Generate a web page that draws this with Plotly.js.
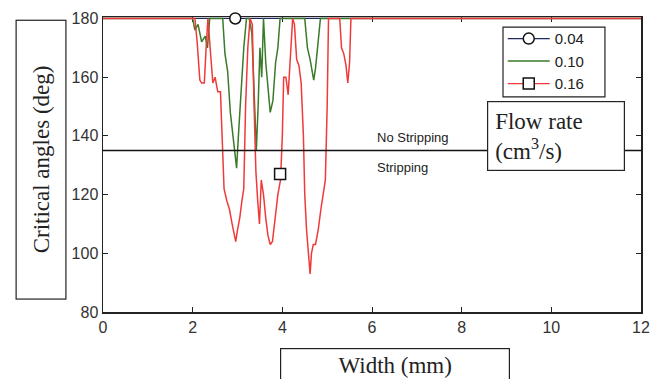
<!DOCTYPE html>
<html><head><meta charset="utf-8">
<script src="https://cdn.plot.ly/plotly-3.0.1.min.js"></script>
<style>html,body{margin:0;padding:0;background:#fff}#plot{width:659px;height:379px}</style>
</head><body><div id="plot"></div>
<script>
// Flow rate 0.04 cm3/s: no stripping anywhere
const x04 = [0, 12];
const y04 = [180, 180];
const markX04 = [2.95];
const markY04 = [180];
// Flow rate 0.10 cm3/s
const x10 = [0,2.0,2.05,2.12,2.2,2.28,2.33,2.38,2.45,2.6,2.67,2.72,2.78,2.84,2.9,2.95,2.98,3.02,3.08,3.14,3.2,3.26,3.32,3.38,3.42,3.46,3.5,3.54,3.58,3.63,3.68,3.73,3.79,3.85,3.9,3.95,4.5,4.56,4.62,4.67,4.7,4.74,4.79,4.85,12];
const y10 = [180,180,176,178,172,174,170,180,180,180,180,168,162,148,140,133,129,140,155,170,180,180,175,150,135,150,170,160,180,165,155,148,152,165,170,180,180,170,166,162,159,163,170,180,180];
// Flow rate 0.16 cm3/s
const x16 = [0,2.05,2.1,2.16,2.2,2.26,2.3,2.34,2.4,2.45,2.5,2.56,2.62,2.66,2.7,2.76,2.82,2.88,2.93,2.96,3.0,3.05,3.1,3.14,3.18,3.23,3.28,3.33,3.37,3.41,3.45,3.49,3.53,3.58,3.63,3.68,3.73,3.78,3.84,3.9,3.96,4.0,4.03,4.08,4.13,4.18,4.23,4.27,4.32,4.37,4.42,4.47,4.5,4.54,4.58,4.62,4.65,4.69,4.74,4.8,4.86,4.91,4.96,5.0,5.03,5.28,5.32,5.37,5.42,5.46,5.5,5.53,12];
const y16 = [180,180,172,159,158,158,170,180,168,158,160,155,155,140,122,118,115,110,106,104,108,112,118,122,150,170,180,178,150,128,118,110,125,120,112,106,103,104,112,120,125,140,160,160,154,168,180,178,166,164,158,140,120,108,100,93,100,103,103,108,115,121,125,150,180,180,170,168,164,158,165,180,180];
const markX16 = [3.95];
const markY16 = [127];
// Stripping threshold
const threshX = [0, 12];
const threshY = [135, 135];
const legendNames = ['0.04', '0.10', '0.16'];
const xTicks = [0, 2, 4, 6, 8, 10, 12];
const yTicks = [80, 100, 120, 140, 160, 180];

const RED = '#f03a3a', GREEN = '#3a7a2a', BLUE = '#1f2a5a';
const serif = '"Liberation Serif", "Times New Roman", serif';
const sans = '"Liberation Sans", Arial, sans-serif';

const data = [
  {x: x04, y: y04, mode: 'lines', line: {color: BLUE, width: 1.3}, showlegend: false, hoverinfo: 'skip'},
  {x: x10, y: y10, mode: 'lines', name: legendNames[1], legendrank: 2, line: {color: GREEN, width: 1.5}},
  {x: x16, y: y16, mode: 'lines', showlegend: false, line: {color: RED, width: 1.5}},
  {x: threshX, y: threshY, mode: 'lines', showlegend: false, line: {color: '#111', width: 1.5}},
  {x: markX04, y: markY04, mode: 'lines+markers', name: legendNames[0], legendrank: 1, cliponaxis: false,
   line: {color: BLUE, width: 1.3}, marker: {symbol: 'circle', size: 11, color: '#fff', line: {color: '#111', width: 1.5}}},
  {x: markX16, y: markY16, mode: 'lines+markers', name: legendNames[2], legendrank: 3, cliponaxis: false,
   line: {color: RED, width: 1.3}, marker: {symbol: 'square', size: 11, color: '#fff', line: {color: '#111', width: 1.5}}}
];

const layout = {
  width: 659, height: 379,
  margin: {l: 103, r: 18, t: 17, b: 67},
  paper_bgcolor: '#fff', plot_bgcolor: '#fff',
  showlegend: true,
  font: {family: sans, size: 14, color: '#222'},
  xaxis: {range: [0, 12], tickvals: xTicks, ticks: 'inside', ticklen: 5, tickcolor: '#222',
          showline: true, mirror: 'ticks', linecolor: '#222', linewidth: 1.5, showgrid: false, zeroline: false,
          layer: 'below traces', tickfont: {family: sans, size: 16, color: '#333'}},
  yaxis: {range: [80, 180.5], tickvals: yTicks, ticks: 'inside', ticklen: 5, tickcolor: '#222',
          showline: true, mirror: 'ticks', linecolor: '#222', linewidth: 1.5, showgrid: false, zeroline: false,
          layer: 'below traces', tickfont: {family: sans, size: 16, color: '#333'}},
  legend: {x: 0.743, y: 0.982, xanchor: 'left', yanchor: 'top', bgcolor: 'rgba(0,0,0,0)', borderwidth: 0,
           font: {family: sans, size: 15, color: '#222'}, tracegroupgap: 0, itemwidth: 42},
  shapes: [
    {type: 'rect', xref: 'paper', yref: 'paper', x0: 0.7435, x1: 0.933, y0: 0.729, y1: 0.966,
     fillcolor: '#fff', line: {color: '#222', width: 1.2}, layer: 'above'}
  ],
  annotations: [
    {xref: 'paper', yref: 'paper', x: -0.116, y: 0.515, xanchor: 'center', yanchor: 'middle',
     text: 'Critical angles (deg)', textangle: -90,
     showarrow: false, width: 276, height: 47, bordercolor: '#222', borderwidth: 1.2, borderpad: 1, bgcolor: '#fff',
     font: {family: serif, size: 23, color: '#222'}},
    {xref: 'paper', yref: 'paper', x: 0.543, y: -0.18, xanchor: 'center', yanchor: 'middle',
     text: 'Width (mm)', showarrow: false,
     width: 226, height: 30, bordercolor: '#222', borderwidth: 1.2, borderpad: 1, bgcolor: '#fff',
     font: {family: serif, size: 23, color: '#222'}},
    {xref: 'paper', yref: 'paper', x: 0.714, y: 0.715, xanchor: 'left', yanchor: 'top', align: 'left',
     text: 'Flow rate<br>(cm<sup>3</sup>/s)', showarrow: false, width: 122, height: 54,
     bordercolor: '#222', borderwidth: 1.2, borderpad: 7, bgcolor: '#fff',
     font: {family: serif, size: 23, color: '#222'}},
    {xref: 'x', yref: 'y', x: 6.07, y: 139.3, xanchor: 'left', text: 'No Stripping', showarrow: false,
     font: {family: sans, size: 13, color: '#222'}},
    {xref: 'x', yref: 'y', x: 6.07, y: 129.2, xanchor: 'left', text: 'Stripping', showarrow: false,
     font: {family: sans, size: 13, color: '#222'}}
  ]
};

Plotly.newPlot('plot', data, layout, {displayModeBar: false, staticPlot: true});
</script>
</body></html>
